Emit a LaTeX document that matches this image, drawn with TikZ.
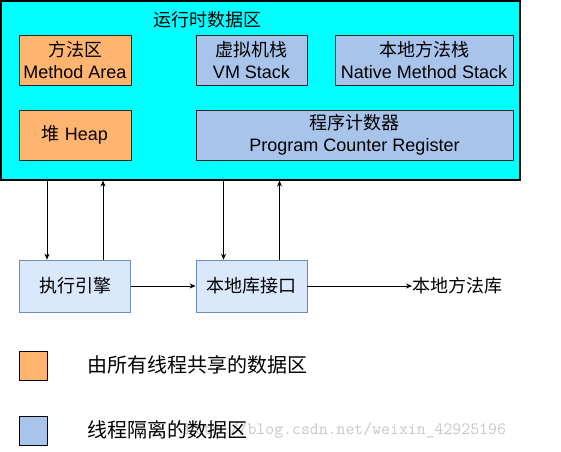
\documentclass[tikz,border=0pt]{standalone}
\usepackage{fontspec}
\setmainfont{Liberation Sans}
\newfontfamily\cjk{Noto Sans CJK SC}
\usetikzlibrary{arrows.meta,positioning}
\definecolor{rtcyan}{HTML}{00FFFF}
\definecolor{shared}{HTML}{FFB570}
\definecolor{isolated}{HTML}{A9C4EB}
\definecolor{engfill}{HTML}{DAE8FC}
\definecolor{engline}{HTML}{6C8EBF}
\tikzset{
  area/.style   ={draw=black!85, line width=0.7pt, inner sep=0pt,
                  align=center, font=\fontsize{18}{22}\selectfont},
  shbox/.style  ={area, fill=shared, minimum width=112pt, minimum height=50pt},
  isbox/.style  ={area, fill=isolated, minimum height=50pt},
  engbox/.style ={area, draw=engline, fill=engfill,
                  minimum width=111pt, minimum height=52pt},
  flow/.style   ={-{Stealth[length=6pt,width=5pt]}, line width=0.7pt},
  legsq/.style  ={draw, line width=0.8pt, minimum width=28pt,
                  minimum height=29pt, inner sep=0pt},
  legtxt/.style ={anchor=west, inner sep=0pt,
                  font=\fontsize{20}{24}\selectfont\cjk},
}

\begin{document}
\begin{tikzpicture}[x=1pt, y=-1pt]
\useasboundingbox (0,0) rectangle (561,451);
% runtime data area
\node[draw, line width=1.2pt, fill=rtcyan, minimum width=519pt,
  minimum height=179pt, inner sep=0pt] (rt) at (260.5,90.5) {};
\node[font=\fontsize{18}{22}\selectfont\cjk] (rttitle) at (207,20) {运行时数据区};
\node[shbox] (method) at (75,60) {{\cjk 方法区}\\Method Area};
\node[isbox, minimum width=111pt] (vmstack) at (251.5,60)
  {{\cjk 虚拟机栈}\\VM Stack};
\node[isbox, minimum width=178pt] (nstack) at (424,60)
  {{\cjk 本地方法栈}\\Native Method Stack};
\node[shbox] (heap) at (75,135) {{\cjk 堆} Heap};
\node[isbox, minimum width=317pt] (pcreg) at (354.5,135)
  {{\cjk 程序计数器}\\Program Counter Register};
% engine and native interface
\node[engbox] (engine) at (75,286) {\cjk 执行引擎};
\node[engbox] (nif) at (251.5,286) {\cjk 本地库接口};
\node[anchor=west, inner sep=0pt, font=\fontsize{18}{22}\selectfont\cjk]
  (nlib) at (412,286) {本地方法库};
\draw[flow] ([xshift=-28pt]engine.north |- rt.south) -- ([xshift=-28pt]engine.north);
\draw[flow] ([xshift=28pt]engine.north) -- ([xshift=28pt]engine.north |- rt.south);
\draw[flow] ([xshift=-28pt]nif.north |- rt.south) -- ([xshift=-28pt]nif.north);
\draw[flow] ([xshift=28pt]nif.north) -- ([xshift=28pt]nif.north |- rt.south);
\draw[flow] (engine) -- (nif);
\draw[flow] (nif) -- (nlib);
% legend
\node[legsq, fill=shared] (legsh) at (33,365.5) {};
\node[legtxt] (legshtxt) at (87,365) {由所有线程共享的数据区};
\node[legsq, fill=isolated] (legis) at (33,430.5) {};
\node[anchor=west, inner sep=0pt, text=black!22,
  font=\fontsize{17.3}{20}\selectfont\ttfamily] (wmark) at (185,430)
  {http://blog.csdn.net/weixin\_42925196};
\node[legtxt] (legistxt) at (87,430) {线程隔离的数据区};
\end{tikzpicture}
\end{document}
